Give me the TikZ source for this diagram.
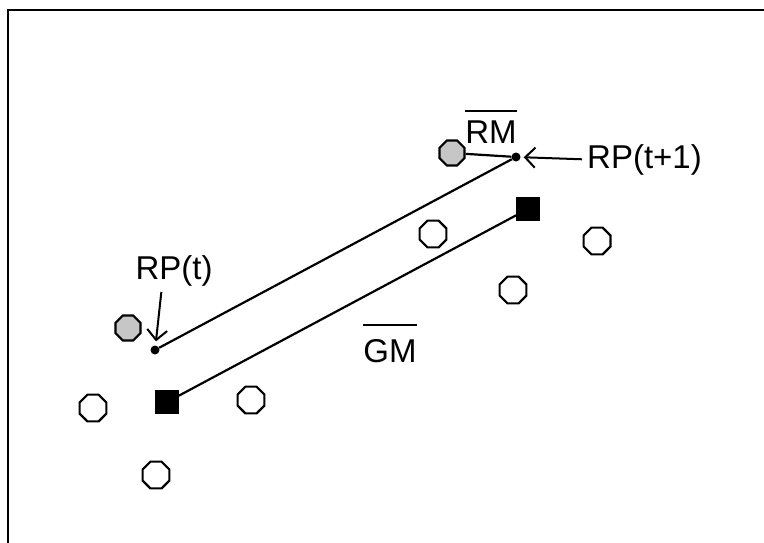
\documentclass[tikz,border=0pt]{standalone}
\usepackage{fontspec}
\setmainfont{Liberation Sans}
\usetikzlibrary{positioning,arrows.meta,shapes.geometric}

\tikzset{
  pebble/.style={draw,regular polygon,regular polygon sides=8,minimum size=29,inner sep=0,line width=2.2pt},
  seen/.style={pebble,fill=gray!45,minimum size=27},
  goal/.style={draw,fill=black,inner sep=0,minimum size=23},
  refpt/.style={circle,fill=black,inner sep=0,minimum size=9},
  lbl/.style={inner sep=0,font=\fontsize{33}{36}\selectfont},
  link/.style={line width=2.2pt},
  barb/.style={line width=2pt,-{Straight Barb[length=10pt,width=20pt]}}
}

\begin{document}
\begin{tikzpicture}[x=1pt,y=-1pt]
  \useasboundingbox (0,0) rectangle (764,543);
  \draw[line width=2.2pt] (8,543) -- (8,10) -- (764,10);

  % positions of the robot at t and t+1
  \node[refpt] (p0) at (155,350) {};
  \node[refpt] (p1) at (516,157) {};
  \node[seen] (g0) at (128,328) {};
  \node[seen] (g1) at (452,153) {};
  \node[goal] (sq0) at (167,402) {};
  \node[goal] (sq1) at (528,209) {};

  \node[pebble] (o1) at (93,408) {};
  \node[pebble] (o2) at (251,400) {};
  \node[pebble] (o3) at (156,475) {};
  \node[pebble] (o4) at (433,234) {};
  \node[pebble] (o5) at (597,241) {};
  \node[pebble] (o6) at (513,290) {};

  \node[lbl,anchor=base] (rptxt) at (174,279) {RP(t)};
  \node[lbl,anchor=base west] (rp1txt) at (587,168) {RP(t+1)};
  \node[lbl,anchor=base] (rmtxt) at (491,143) {RM};
  \node[lbl,anchor=base] (gmtxt) at (390,362) {GM};
  \draw[link] ([yshift=32pt]rmtxt.base west) -- ([yshift=32pt]rmtxt.base east);
  \draw[link] ([yshift=37pt]gmtxt.base west) -- ([yshift=37pt]gmtxt.base east);

  \draw[link] (p0) -- (p1);
  \draw[link] (sq0) -- (sq1);
  \draw[link] (g1) -- (p1);
  \draw[barb,shorten <=5pt,shorten >=3pt] (rp1txt.west) -- (p1);
  \draw[barb,shorten <=6pt,shorten >=4pt] ([xshift=-12pt]rptxt.south) -- (p0);
\end{tikzpicture}
\end{document}
